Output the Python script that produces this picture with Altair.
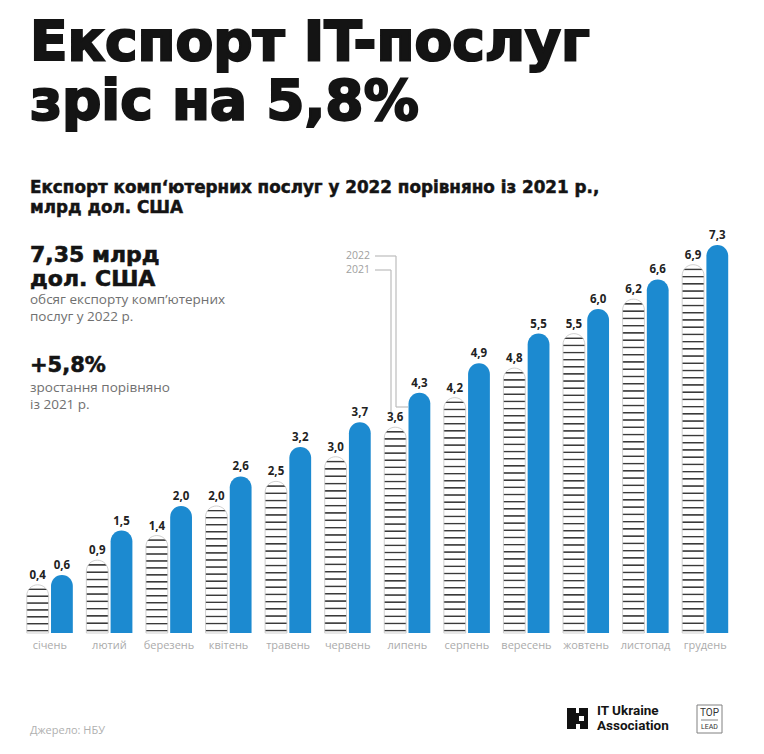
import altair as alt
import pandas as pd

# ---- data ----
months = ["січень", "лютий", "березень", "квітень", "травень", "червень",
          "липень", "серпень", "вересень", "жовтень", "листопад", "грудень"]
exports_2021 = [0.4, 0.9, 1.4, 2.0, 2.5, 3.0, 3.6, 4.2, 4.8, 5.5, 6.2, 6.9]
exports_2022 = [0.6, 1.5, 2.0, 2.6, 3.2, 3.7, 4.3, 4.9, 5.5, 6.0, 6.6, 7.3]
years = ["2021", "2022"]

# ---- layout / style ----
W, H = 715, 393
Y_MIN, Y_MAX = -0.579, 7.401
PX = H / (Y_MAX - Y_MIN)
BLUE = "#1c8ad0"
DARK = "#141414"
GREY = "#707070"
HEAD = "DejaVu Sans"
BODY = "Open Sans"


def wave_fill(v):
    """white bar with thin dark strokes (approximates the wavy hatch)"""
    h = (v - Y_MIN) * PX
    n = max(2, round(h / 7.2))
    stops = []
    for i in range(n):
        a = i / n
        stops += [
            {"offset": a, "color": "#ffffff"},
            {"offset": a + 0.50 / n, "color": "#ffffff"},
            {"offset": a + 0.60 / n, "color": "#3a3a3a"},
            {"offset": a + 0.70 / n, "color": "#3a3a3a"},
            {"offset": a + 0.82 / n, "color": "#ffffff"},
        ]
    stops.append({"offset": 1, "color": "#ffffff"})
    return {"gradient": "linear", "x1": 0, "y1": 0, "x2": 0, "y2": 1, "stops": stops}


rows = []
for m, a, b in zip(months, exports_2021, exports_2022):
    rows.append({"month": m, "year": years[0], "value": a,
                 "label": f"{a:.1f}".replace(".", ","), "fill": wave_fill(a)})
    rows.append({"month": m, "year": years[1], "value": b,
                 "label": f"{b:.1f}".replace(".", ","), "fill": BLUE})
df = pd.DataFrame(rows)

x_enc = alt.X("month:N", sort=months,
              scale=alt.Scale(paddingInner=0.2275, paddingOuter=0.114),
              axis=alt.Axis(title=None, domain=False, ticks=False, labelAngle=0,
                            labelFont=BODY, labelFontSize=11, labelColor="#ababab",
                            labelPadding=6))
xo_enc = alt.XOffset("year:N", sort=years, scale=alt.Scale(paddingInner=0.1))
y_enc = alt.Y("value:Q", scale=alt.Scale(domain=[Y_MIN, Y_MAX], nice=False, zero=False),
              axis=None)

base = alt.Chart(df)

bars21 = base.transform_filter(alt.datum.year == "2021").mark_bar(
    cornerRadiusTopLeft=11, cornerRadiusTopRight=11, stroke="#c4c4c4", strokeWidth=0.8
).encode(x=x_enc, xOffset=xo_enc, y=y_enc, y2=alt.datum(Y_MIN),
         fill=alt.Fill("fill:N", scale=None, legend=None))

bars22 = base.transform_filter(alt.datum.year == "2022").mark_bar(
    cornerRadiusTopLeft=11, cornerRadiusTopRight=11, color=BLUE
).encode(x=x_enc, xOffset=xo_enc, y=y_enc, y2=alt.datum(Y_MIN))

labels = base.mark_text(font=BODY, fontSize=11.5, fontWeight="bold", color="#222",
                        baseline="bottom", dy=-4).encode(
    x=x_enc, xOffset=xo_enc, y=y_enc, text="label:N")

one = pd.DataFrame({"k": [0]})


def txt(s, x, y, size, color=DARK, weight="normal", font=BODY, align="left",
        thick=0, lh=None):
    kw = {}
    if thick:
        kw.update(stroke=color, strokeWidth=thick)
    if lh:
        kw.update(lineHeight=lh)
    return alt.Chart(one).mark_text(
        text=s, fontSize=size, fontWeight=weight, font=font, color=color,
        align=align, baseline="alphabetic", **kw
    ).encode(x=alt.value(x), y=alt.value(y))


def seg(x1, y1, x2, y2, color="#bdbdbd", w=1.2):
    return alt.Chart(one).mark_rule(color=color, strokeWidth=w).encode(
        x=alt.value(x1), y=alt.value(y1), x2=alt.value(x2), y2=alt.value(y2))


def box(x1, y1, x2, y2, fill, stroke=None):
    kw = {"fill": fill}
    if stroke:
        kw.update(stroke=stroke, strokeWidth=1)
    return alt.Chart(one).mark_rect(**kw).encode(
        x=alt.value(x1), y=alt.value(y1), x2=alt.value(x2), y2=alt.value(y2))


# view origin is at page (20, 240)
annot = [
    txt(["Експорт IT-послуг", "зріс на 5,8%"], 10, -180, 55, weight="bold",
        font=HEAD, thick=2.2, lh=59),
    txt(["Експорт комп‘ютерних послуг у 2022 порівняно із 2021 р.,", "млрд дол. США"],
        10, -47, 16.8, weight="bold", font=HEAD, thick=0.5, lh=19.5),
    txt(["7,35 млрд", "дол. США"], 10, 22, 22, weight="bold", font=HEAD, thick=0.6, lh=24),
    txt(["обсяг експорту комп’ютерних", "послуг у 2022 р."], 10, 64, 13.5,
        color=GREY, lh=17),
    txt("+5,8%", 10, 132, 21, weight="bold", font=HEAD, thick=0.6),
    txt(["зростання порівняно", "із 2021 р."], 10, 152, 13.5, color=GREY, lh=17),
    txt(["2022", "2021"], 350, 19, 10.5, color="#a0a0a0", align="right", lh=14),
    seg(355, 16, 376, 16), seg(376, 16, 376, 167), seg(376, 167, 388, 167),
    seg(355, 30, 371, 30), seg(371, 30, 371, 172),
    txt("Джерело: НБУ", 10, 494, 11, color="#b0b0b0"),
    box(547, 468, 568, 489, "#111111"),
    box(556, 468, 559, 473, "#ffffff"),
    box(559, 476, 564, 481, "#ffffff"),
    box(556, 484, 560, 489, "#ffffff"),
    txt(["IT Ukraine", "Association"], 577, 475, 13.5, weight="bold", font="Roboto", lh=15),
    box(677, 465, 702, 493, "#ffffff", stroke="#808080"),
    txt("TOP", 689.5, 476, 10, color="#333", font="Roboto", align="center"),
    seg(681, 480, 698, 480, color="#666", w=0.8),
    txt("LEAD", 689.5, 489, 7, color="#333", font="Roboto", align="center"),
]

chart = alt.layer(bars21, bars22, labels, *annot).properties(
    width=W, height=H,
    padding={"left": 12, "top": 232, "right": 21, "bottom": 110},
    autosize=alt.AutoSizeParams(type="none"),
    background="white",
).configure_view(stroke=None)

chart.save("out.html", embed_options={"renderer": "svg", "actions": False})
